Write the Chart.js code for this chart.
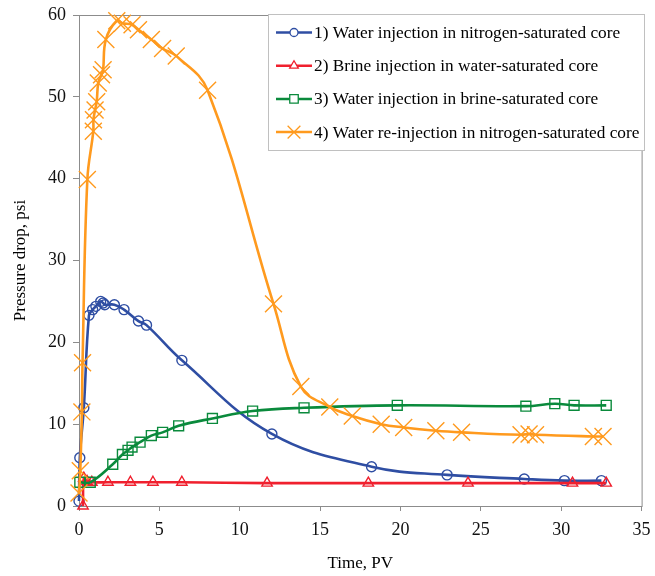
<!DOCTYPE html>
<html>
<head>
<meta charset="utf-8">
<script src="https://cdn.jsdelivr.net/npm/chart.js@4"></script>
<style>
  html, body { margin: 0; padding: 0; background: #fff; }
  #wrap { width: 655px; height: 576px; }
</style>
</head>
<body>
<div id="wrap"><canvas id="myChart" width="655" height="576"></canvas></div>
<script>
// Series labels
var seriesLabels = [
  '1) Water injection in nitrogen-saturated core',
  '2) Brine injection in water-saturated core',
  '3) Water injection in brine-saturated core',
  '4) Water re-injection in nitrogen-saturated core'
];

// 1) water injection, nitrogen-saturated core
var time1 = [0, 0.05, 0.3, 0.62, 0.85, 1.05, 1.35, 1.5, 1.6, 2.2, 2.8, 3.7, 4.2, 6.4, 12.0, 18.2, 22.9, 27.7, 30.2, 32.5];
var drop1 = [0.6, 5.9, 12.0, 23.3, 24.0, 24.4, 25.0, 24.8, 24.6, 24.6, 24.0, 22.6, 22.1, 17.8, 8.8, 4.8, 3.8, 3.3, 3.1, 3.1];

// 2) brine injection, water-saturated core
var time2 = [0.25, 0.3, 0.5, 0.8, 1.8, 3.2, 4.6, 6.4, 11.7, 18.0, 24.2, 30.7, 32.8];
var drop2 = [0.0, 3.4, 3.0, 2.9, 2.9, 2.9, 2.9, 2.9, 2.8, 2.8, 2.8, 2.8, 2.8];

// 3) water injection, brine-saturated core
var time3 = [0.05, 0.7, 2.1, 2.7, 3.05, 3.3, 3.8, 4.5, 5.2, 6.2, 8.3, 10.8, 14.0, 19.8, 27.8, 29.6, 30.8, 32.8];
var drop3 = [2.9, 2.9, 5.1, 6.3, 6.8, 7.2, 7.8, 8.6, 9.0, 9.8, 10.7, 11.6, 12.0, 12.3, 12.2, 12.5, 12.3, 12.3];

// 4) water re-injection, nitrogen-saturated core
var time4 = [0, 0.08, 0.18, 0.22, 0.52, 0.89, 0.9, 1.0, 1.1, 1.2, 1.4, 1.5, 1.67, 2.35, 2.7, 3.3, 3.7, 4.5, 5.2, 6.05, 8.0, 12.1, 13.8, 15.6, 17.0, 18.8, 20.2, 22.2, 23.8, 27.5, 28.0, 28.4, 32.0, 32.6];
var drop4 = [1.6, 4.3, 11.5, 17.5, 39.9, 45.8, 47.2, 48.4, 49.4, 51.7, 52.7, 53.3, 57.0, 59.3, 59.0, 58.8, 58.2, 57.0, 55.9, 55.0, 50.8, 24.7, 14.6, 12.1, 11.0, 10.0, 9.6, 9.2, 9.0, 8.7, 8.8, 8.7, 8.5, 8.5];

// Axis ticks
var xTicks = [0, 5, 10, 15, 20, 25, 30, 35];
var yTicks = [0, 10, 20, 30, 40, 50, 60];

var serif = '"Liberation Serif", "Times New Roman", serif';

function toPoints(xs, ys) {
  return xs.map(function (x, i) { return { x: x, y: ys[i] }; });
}

// frame round the plot area and legend box inside it
var framePlugin = {
  id: 'frame',
  beforeDatasetsDraw: function (chart) {
    var ctx = chart.ctx;
    var a = chart.chartArea;
    ctx.save();
    ctx.strokeStyle = '#8c8c8c';
    ctx.lineWidth = 1;
    ctx.strokeRect(a.left + 0.5, a.top + 0.5, a.right - a.left, a.bottom - a.top);
    ctx.restore();
  },
  afterDraw: function (chart) {
    var ctx = chart.ctx;
    ctx.save();
    // legend
    var bx = 268, by = 14, bw = 376, bh = 136;
    ctx.fillStyle = '#fff';
    ctx.fillRect(bx, by, bw, bh);
    ctx.strokeStyle = '#c0c0c0';
    ctx.lineWidth = 1;
    ctx.strokeRect(bx + 0.5, by + 0.5, bw, bh);
    ctx.font = '17.3px ' + serif;
    ctx.textBaseline = 'middle';
    chart.data.datasets.forEach(function (ds, i) {
      var cy = 32.5 + i * 33.2;
      ctx.strokeStyle = ds.borderColor;
      ctx.lineWidth = 2.5;
      ctx.beginPath();
      ctx.moveTo(276, cy);
      ctx.lineTo(312, cy);
      ctx.stroke();
      ctx.lineWidth = 1.3;
      ctx.fillStyle = '#fff';
      Chart.helpers.drawPoint(ctx, {
        pointStyle: ds.pointStyle, radius: ds.legendRadius, borderWidth: 1.3, rotation: 0
      }, 294, cy);
      ctx.fillStyle = '#000';
      ctx.fillText(ds.label, 314, cy + 1);
    });
    ctx.restore();
  }
};

var chartData = {
  datasets: [{
    label: seriesLabels[0],
    data: toPoints(time1, drop1),
    borderColor: '#2f4ea3',
    pointStyle: 'circle',
    pointRadius: 5,
    legendRadius: 4,
    order: 4
  }, {
    label: seriesLabels[1],
    data: toPoints(time2, drop2),
    borderColor: '#f0202e',
    pointStyle: 'triangle',
    pointRadius: 6,
    legendRadius: 5,
    order: 3
  }, {
    label: seriesLabels[2],
    data: toPoints(time3, drop3),
    borderColor: '#0a8a3c',
    pointStyle: 'rect',
    pointRadius: 7,
    legendRadius: 6,
    order: 2
  }, {
    label: seriesLabels[3],
    data: toPoints(time4, drop4),
    borderColor: '#ff9a1e',
    pointStyle: 'crossRot',
    pointRadius: 12,
    legendRadius: 9,
    order: 1
  }]
};

chartData.datasets.forEach(function (ds) {
  ds.backgroundColor = 'rgba(0,0,0,0)';
  ds.pointBackgroundColor = 'rgba(0,0,0,0)';
  ds.pointBorderColor = ds.borderColor;
  ds.pointBorderWidth = 1.4;
  ds.borderWidth = 2.6;
  ds.tension = 0.4;
  ds.fill = false;
  ds.clip = 12;
  ds.pointHoverRadius = ds.pointRadius;
});

var chartOptions = {
  responsive: false,
  animation: false,
  layout: { padding: { left: 0, top: 15, right: 10, bottom: 0 } },
  plugins: { legend: { display: false }, tooltip: { enabled: false } },
  scales: {
    x: {
      type: 'linear',
      min: 0, max: 35,
      afterBuildTicks: function (scale) { scale.ticks = xTicks.map(function (v) { return { value: v }; }); },
      afterFit: function (scale) {
        scale.height = 70;
        scale.paddingLeft = 0;
        scale.paddingRight = 0;
      },
      ticks: { color: '#111', padding: 8, font: { family: serif, size: 18 } },
      grid: { drawOnChartArea: false, drawTicks: true, tickLength: 5, color: '#8c8c8c' },
      border: { display: true, color: '#8c8c8c' },
      title: { display: true, text: 'Time, PV', color: '#000', padding: { top: 2, bottom: 2 }, font: { family: serif, size: 17 } }
    },
    y: {
      min: 0, max: 60,
      afterBuildTicks: function (scale) { scale.ticks = yTicks.map(function (v) { return { value: v }; }); },
      afterFit: function (scale) {
        scale.width = 79;
        scale.paddingTop = 0;
        scale.paddingBottom = 0;
      },
      ticks: { color: '#111', padding: 7, font: { family: serif, size: 18 } },
      grid: { drawOnChartArea: false, drawTicks: true, tickLength: 6, color: '#8c8c8c' },
      border: { display: true, color: '#8c8c8c' },
      title: { display: true, text: 'Pressure drop, psi', color: '#000', padding: { top: 10, bottom: 10 }, font: { family: serif, size: 17 } }
    }
  }
};

var element = document.getElementById('myChart').getContext('2d');
var chart = new Chart(element, { type: 'line', data: chartData, options: chartOptions, plugins: [framePlugin] });
</script>
</body>
</html>
